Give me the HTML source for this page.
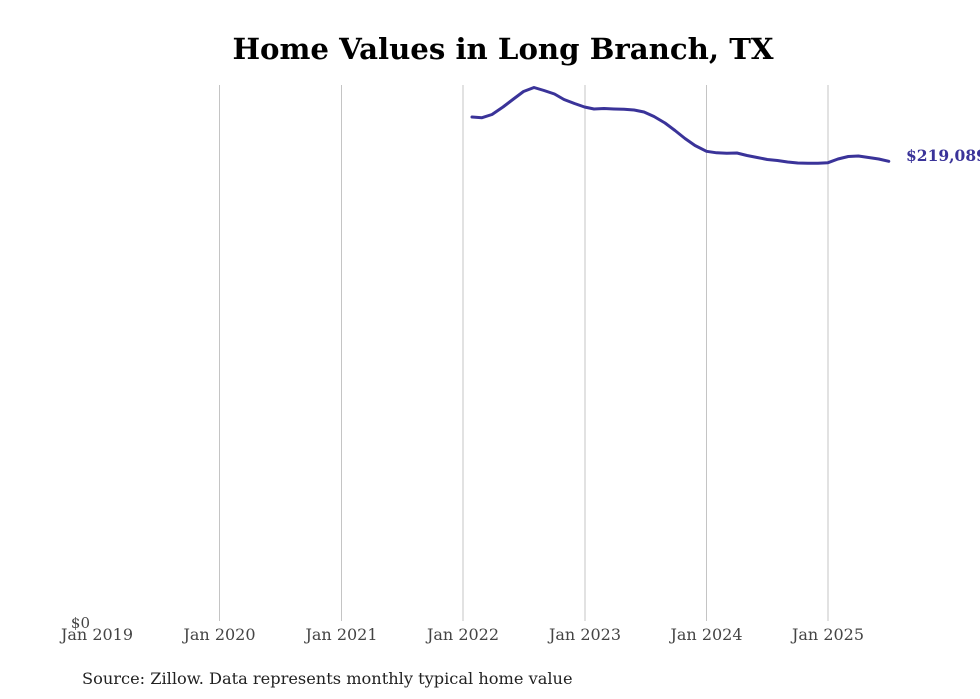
<!DOCTYPE html>
<html><head><meta charset="utf-8"><style>
html,body{margin:0;padding:0;background:#fff;}
svg{display:block;}
</style></head><body>
<svg width="980" height="699" viewBox="0 0 980 699" xmlns="http://www.w3.org/2000/svg">
<rect width="980" height="699" fill="#fff"/>
<text x="503" y="59" text-anchor="middle" font-family="DejaVu Serif, Liberation Serif, serif" font-weight="bold" font-size="29.2" fill="#000">Home Values in Long Branch, TX</text>
<g stroke="#c4c4c4" stroke-width="1">
<line x1="219.5" y1="85" x2="219.5" y2="621"/>
<line x1="341.5" y1="85" x2="341.5" y2="621"/>
<line x1="463" y1="85" x2="463" y2="621"/>
<line x1="585" y1="85" x2="585" y2="621"/>
<line x1="706.5" y1="85" x2="706.5" y2="621"/>
<line x1="828" y1="85" x2="828" y2="621"/>
</g>
<g font-family="DejaVu Serif, Liberation Serif, serif" font-size="16" fill="#444" text-anchor="middle">
<text x="97" y="640">Jan 2019</text>
<text x="219.5" y="640">Jan 2020</text>
<text x="341.5" y="640">Jan 2021</text>
<text x="463" y="640">Jan 2022</text>
<text x="585" y="640">Jan 2023</text>
<text x="706.5" y="640">Jan 2024</text>
<text x="828" y="640">Jan 2025</text>
</g>
<text x="90" y="628" text-anchor="end" font-family="DejaVu Serif, Liberation Serif, serif" font-size="15" fill="#444">$0</text>
<polyline fill="none" stroke="#3a3399" stroke-width="3" stroke-linejoin="round" stroke-linecap="round"
points="472,117 482,117.7 492,114.5 503,107 513.5,99 523.5,91.5 534,87.5 544,90.5 554.5,94 564,99.5 574.5,103.5 584.5,107 594,109 604,108.5 614,109 624,109.3 634,110 644,112 654,116.5 665,123 675,130.5 685,138.5 695,145.5 706.5,151.3 716.6,152.8 726.8,153.3 736.9,153 747,155.5 757.2,157.5 767.3,159.5 777.4,160.5 787.6,162 797.7,163 807.8,163.3 818,163.3 828,162.7 838,159 848.3,156.5 858.4,156 868.6,157.5 878.7,159 888.8,161.3"/>
<text x="906" y="161" font-family="DejaVu Serif, Liberation Serif, serif" font-weight="bold" font-size="15.5" fill="#3a3399">$219,089</text>
<text x="82" y="684" font-family="DejaVu Serif, Liberation Serif, serif" font-size="16.2" fill="#222">Source: Zillow. Data represents monthly typical home value</text>
</svg>
</body></html>
